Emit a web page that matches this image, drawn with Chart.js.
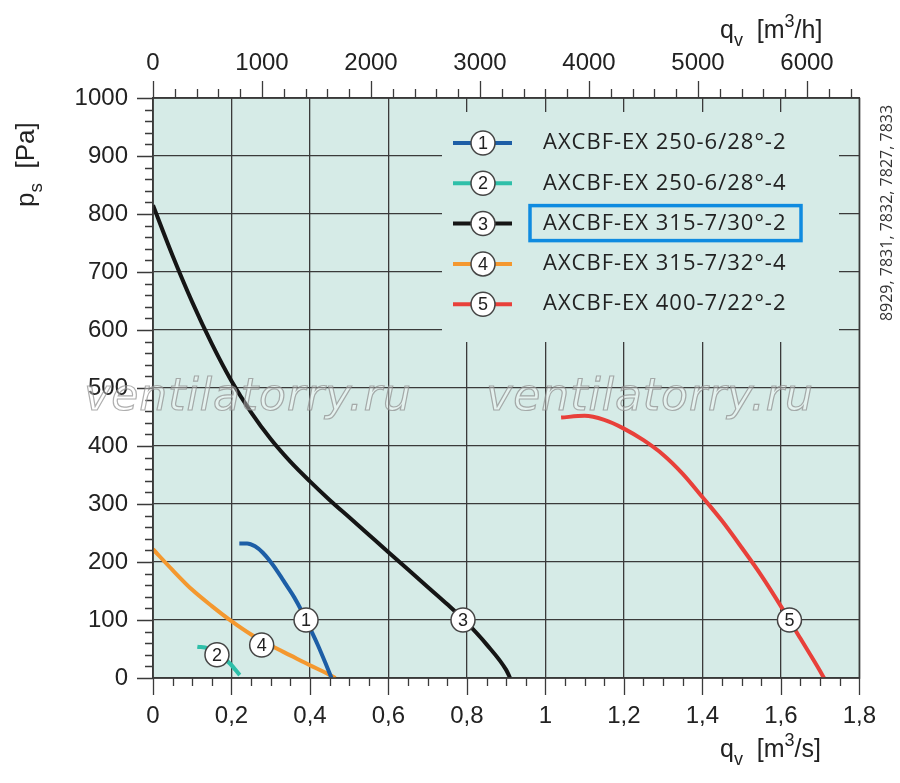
<!DOCTYPE html>
<html>
<head>
<meta charset="utf-8">
<script src="https://cdn.jsdelivr.net/npm/chart.js@4.4.1/dist/chart.umd.min.js"></script>
<style>
  html, body { margin:0; padding:0; background:#fff; }
  #wrap { width:900px; height:783px; }
</style>
</head>
<body>
<div id="wrap"><canvas id="c" width="900" height="783"></canvas></div>
<script>
// ─── Data ────────────────────────────────────────────────────────────────────
const names  = ['AXCBF-EX 250-6/28°-2', 'AXCBF-EX 250-6/28°-4', 'AXCBF-EX 315-7/30°-2', 'AXCBF-EX 315-7/32°-4', 'AXCBF-EX 400-7/22°-2'];
const colors = ['#1d5ea6', '#2ebfa9', '#151515', '#f4982f', '#e8403a'];

const q1 = [0.22, 0.24, 0.26, 0.28, 0.30, 0.32, 0.34, 0.36, 0.38, 0.40, 0.42, 0.44, 0.455];
const p1 = [232, 232, 227, 216, 200, 181, 160, 139, 114, 86, 57, 25, 0];
const q2 = [0.113, 0.14, 0.17, 0.196, 0.221];
const p2 = [54, 51, 40, 25, 5];
const q3 = [0, 0.05, 0.1, 0.15, 0.2, 0.25, 0.3, 0.35, 0.4, 0.45, 0.5, 0.55, 0.6, 0.65, 0.7, 0.75, 0.8, 0.85, 0.9, 0.91];
const p3 = [815, 728, 648, 576, 512, 458, 412, 373, 339, 307, 277, 247, 217, 187, 157, 127, 95, 58, 14, 0];
const q4 = [0, 0.05, 0.1, 0.15, 0.2, 0.25, 0.3, 0.35, 0.4, 0.44, 0.465];
const p4 = [222, 186, 152, 124, 98, 75, 56, 39, 22, 9, 0];
const q5 = [1.04, 1.1, 1.15, 1.2, 1.25, 1.3, 1.35, 1.4, 1.45, 1.5, 1.55, 1.6, 1.65, 1.7, 1.71];
const p5 = [449, 452, 445, 430, 410, 385, 352, 312, 271, 225, 177, 124, 68, 12, 0];

// numbered markers sitting on the curves
const markQ = [0.39, 0.163, 0.79, 0.277, 1.622];
const markP = [100, 40, 100, 57, 100];

// tick values
const qTicks     = [0, 0.2, 0.4, 0.6, 0.8, 1, 1.2, 1.4, 1.6, 1.8];
const qMinor     = 0.05;
const qhTicks    = [0, 1000, 2000, 3000, 4000, 5000, 6000];
const qhMinor    = 200;
const pTicks     = [0, 100, 200, 300, 400, 500, 600, 700, 800, 900, 1000];
const pMinor     = 20;
const QH_MAX     = 1.8 * 3600;
const codes      = '8929, 7831, 7832, 7827, 7833';
const watermark  = 'ventilatorry.ru';
const HIGHLIGHT  = 2;   // index of the boxed legend entry

// ─── Style ───────────────────────────────────────────────────────────────────
const BG   = '#d6ebe7';
const GRID = '#3a3a3a';
const TXT  = '#222';
const NUMF = "'Liberation Sans', Arial, sans-serif";
const LEGF = "'Open Sans', 'Noto Sans', sans-serif";

const fmtQ = v => String(+(+v).toFixed(2)).replace('.', ',');
const pts  = (q, p) => q.map((x, i) => ({ x, y: p[i] }));

function circleNum(ctx, x, y, n) {
  ctx.beginPath();
  ctx.arc(x, y, 12, 0, Math.PI * 2);
  ctx.fillStyle = '#fff';
  ctx.fill();
  ctx.lineWidth = 1.5;
  ctx.strokeStyle = '#444';
  ctx.stroke();
  ctx.fillStyle = TXT;
  ctx.font = '18px ' + NUMF;
  ctx.textAlign = 'center';
  ctx.textBaseline = 'middle';
  ctx.fillText(String(n), x, y + 1);
}

// draw a run of text pieces with sub/superscripts, left to right
function rich(ctx, parts, x, y) {
  ctx.textAlign = 'left';
  ctx.textBaseline = 'alphabetic';
  parts.forEach(([t, size, dy]) => {
    ctx.font = size + 'px ' + NUMF;
    ctx.fillText(t, x, y + dy);
    x += ctx.measureText(t).width;
  });
}

// ─── Plugins ─────────────────────────────────────────────────────────────────
const decor = {
  id: 'decor',
  beforeDraw(chart) {
    const { ctx, chartArea: a } = chart;
    ctx.save();
    ctx.fillStyle = BG;
    ctx.fillRect(a.left, a.top, a.right - a.left, a.bottom - a.top);
    ctx.restore();
  },
  beforeDatasetsDraw(chart) {
    const { ctx, chartArea: a } = chart;
    ctx.save();
    // legend panel hides grid
    const lx = a.left + 289, ly = a.top + 14;
    ctx.fillStyle = BG;
    ctx.fillRect(lx, ly, 397, 230);
    names.forEach((nm, i) => {
      const y = a.top + 45 + i * 40.3;
      ctx.strokeStyle = colors[i];
      ctx.lineWidth = 4;
      ctx.beginPath();
      ctx.moveTo(a.left + 300, y);
      ctx.lineTo(a.left + 359, y);
      ctx.stroke();
      circleNum(ctx, a.left + 330, y, i + 1);
      ctx.fillStyle = TXT;
      ctx.font = '22px ' + LEGF;
      ctx.letterSpacing = '1px';
      ctx.textAlign = 'left';
      ctx.textBaseline = 'middle';
      ctx.fillText(nm, a.left + 390, y);
      ctx.letterSpacing = '0px';
      if (i === HIGHLIGHT) {
        ctx.strokeStyle = '#0f8be0';
        ctx.lineWidth = 3.5;
        ctx.strokeRect(a.left + 377, y - 18, 271, 35);
      }
    });
    ctx.restore();
  },
  afterDatasetsDraw(chart) {
    const { ctx } = chart;
    const sx = chart.scales.x, sy = chart.scales.y;
    ctx.save();
    markQ.forEach((q, i) => circleNum(ctx, sx.getPixelForValue(q), sy.getPixelForValue(markP[i]), i + 1));
    ctx.restore();
  },
  afterDraw(chart) {
    const { ctx, chartArea: a } = chart;
    const sx = chart.scales.x, sy = chart.scales.y, st = chart.scales.x2;
    ctx.save();
    ctx.strokeStyle = GRID;
    ctx.lineWidth = 1.5;
    ctx.strokeRect(a.left, a.top, a.right - a.left, a.bottom - a.top);

    // tick marks (major + minor)
    ctx.lineWidth = 1.3;
    ctx.beginPath();
    for (let v = 0; v <= 1000 + 1e-6; v += pMinor) {
      const y = Math.round(sy.getPixelForValue(v)) + 0.5;
      const len = pTicks.includes(Math.round(v)) ? 16 : 8;
      ctx.moveTo(a.left, y); ctx.lineTo(a.left - len, y);
    }
    for (let k = 0; k <= Math.round(1.8 / qMinor); k++) {
      const v = k * qMinor;
      const x = Math.round(sx.getPixelForValue(v)) + 0.5;
      const len = k % 4 === 0 ? 17 : 8;
      ctx.moveTo(x, a.bottom); ctx.lineTo(x, a.bottom + len);
    }
    for (let v = 0; v <= QH_MAX; v += qhMinor) {
      const x = Math.round(st.getPixelForValue(v)) + 0.5;
      const len = qhTicks.includes(v) ? 17 : 9;
      ctx.moveTo(x, a.top); ctx.lineTo(x, a.top - len);
    }
    ctx.stroke();

    // axis titles
    ctx.fillStyle = TXT;
    rich(ctx, [['q', 25, 0], ['v', 18, 8], ['  [m', 25, 0], ['3', 18, -11], ['/s]', 25, 0]], 720, 757);
    rich(ctx, [['q', 25, 0], ['v', 18, 8], ['  [m', 25, 0], ['3', 18, -11], ['/h]', 25, 0]], 720, 38);
    ctx.save();
    ctx.translate(34, 207);
    ctx.rotate(-Math.PI / 2);
    rich(ctx, [['p', 26, 0], ['s', 19, 8], ['  [Pa]', 26, 0]], 0, 0);
    ctx.restore();

    // catalogue numbers on the right
    ctx.save();
    ctx.translate(892, 213);
    ctx.rotate(-Math.PI / 2);
    ctx.font = '16px ' + LEGF;
    ctx.fillStyle = '#333';
    ctx.textAlign = 'center';
    ctx.textBaseline = 'alphabetic';
    ctx.fillText(codes, 0, 0);
    ctx.restore();

    // watermark
    ctx.font = 'italic 44px "DejaVu Sans", sans-serif';
    ctx.letterSpacing = '1px';
    ctx.textAlign = 'center';
    ctx.textBaseline = 'alphabetic';
    ctx.lineWidth = 1.2;
    ctx.strokeStyle = 'rgba(140,140,140,0.7)';
    ctx.fillStyle = 'rgba(255,255,255,0.35)';
    [248, 650].forEach(cx => {
      ctx.fillText(watermark, cx, 410);
      ctx.strokeText(watermark, cx, 410);
    });
    ctx.restore();
  }
};

// ─── Chart ───────────────────────────────────────────────────────────────────
const series = [[q1, p1], [q2, p2], [q3, p3], [q4, p4], [q5, p5]];
const tickFont = { family: NUMF, size: 24 };

new Chart(document.getElementById('c'), {
  type: 'line',
  data: {
    datasets: series.map(([q, p], i) => ({
      label: names[i],
      data: pts(q, p),
      borderColor: colors[i],
      borderWidth: 4,
      pointRadius: 0,
      fill: false,
      tension: 0.4,
      cubicInterpolationMode: 'monotone',
      xAxisID: 'x', yAxisID: 'y'
    }))
  },
  options: {
    responsive: false,
    animation: false,
    layout: { padding: { left: 0, right: 39, top: 0, bottom: 0 } },
    plugins: { legend: { display: false }, tooltip: { enabled: false } },
    scales: {
      x: {
        type: 'linear', position: 'bottom', min: 0, max: 1.8,
        afterBuildTicks: s => { s.ticks = qTicks.map(value => ({ value })); },
        afterFit: s => { s.height = 105; },
        ticks: { font: tickFont, color: TXT, padding: 24, maxRotation: 0, autoSkip: false, callback: v => fmtQ(v) },
        grid: { color: GRID, lineWidth: 1.3, drawTicks: false },
        border: { color: GRID, width: 1.5 }
      },
      x2: {
        type: 'linear', position: 'top', min: 0, max: QH_MAX,
        afterBuildTicks: s => { s.ticks = qhTicks.map(value => ({ value })); },
        afterFit: s => { s.height = 98; },
        ticks: { font: tickFont, color: TXT, padding: 20, maxRotation: 0, autoSkip: false, callback: v => String(v) },
        grid: { drawOnChartArea: false, drawTicks: false },
        border: { color: GRID, width: 1.5 }
      },
      y: {
        type: 'linear', position: 'left', min: 0, max: 1000,
        afterBuildTicks: s => { s.ticks = pTicks.map(value => ({ value })); },
        afterFit: s => { s.width = 153; },
        ticks: { font: tickFont, color: TXT, padding: 25, autoSkip: false, callback: v => String(v) },
        grid: { color: GRID, lineWidth: 1.3, drawTicks: false },
        border: { color: GRID, width: 1.5 }
      }
    }
  },
  plugins: [decor]
});
</script>
</body>
</html>
